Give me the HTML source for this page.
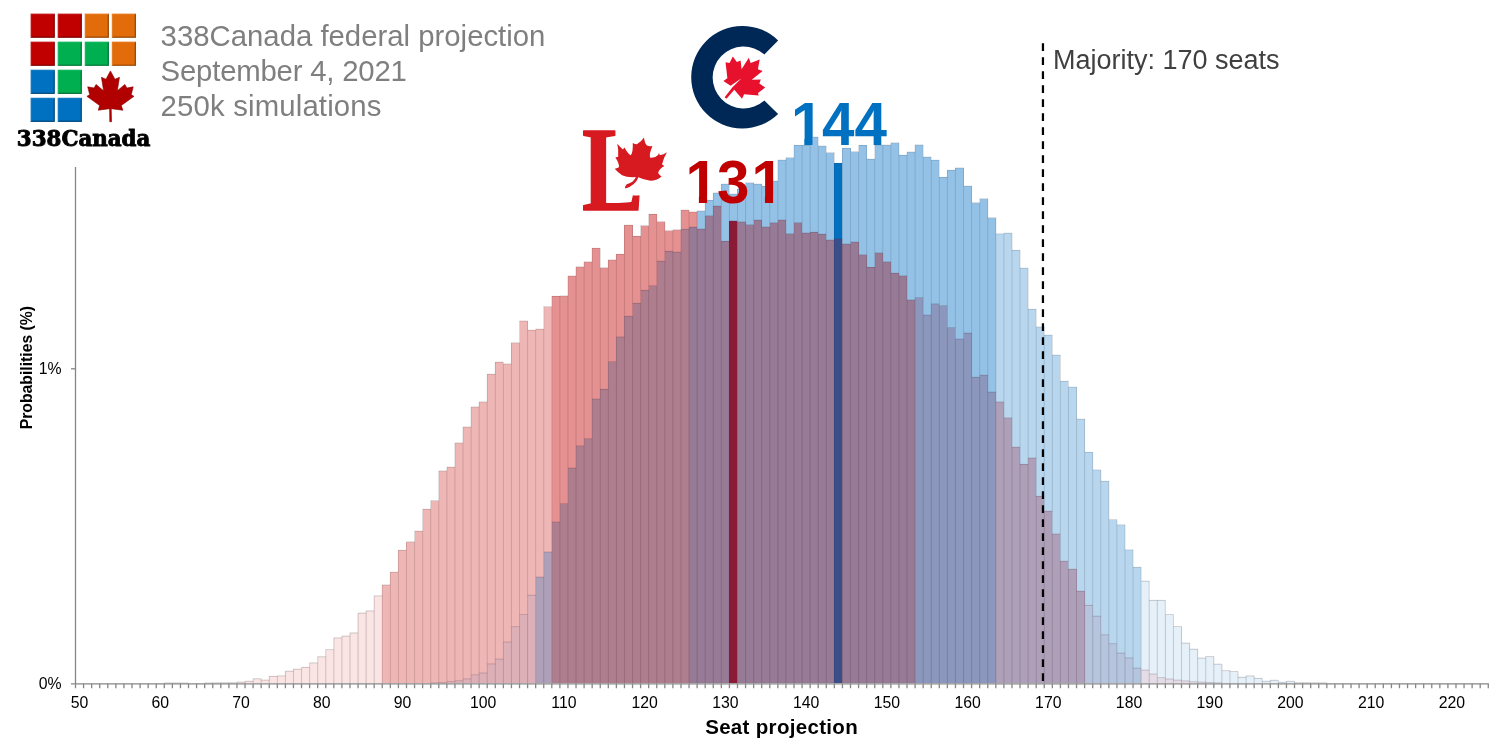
<!DOCTYPE html>
<html lang="en"><head><meta charset="utf-8"><title>338Canada federal projection</title>
<style>html,body{margin:0;padding:0;background:#fff}body{width:1512px;height:756px;overflow:hidden}svg{display:block}text{font-family:"Liberation Sans",Arial,sans-serif}</style></head><body>
<svg width="1512" height="756" viewBox="0 0 1512 756">
<rect width="1512" height="756" fill="#fff"/>
<g shape-rendering="crispEdges">
<rect x="164.30" y="682.90" width="8.073" height="0.40" fill="#FAE4E4"/><rect x="172.38" y="682.90" width="8.073" height="0.40" fill="#FAE4E4"/><rect x="180.45" y="683.00" width="8.073" height="0.30" fill="#FAE4E4"/><rect x="204.67" y="682.90" width="8.073" height="0.40" fill="#FAE4E4"/><rect x="212.74" y="682.80" width="8.073" height="0.50" fill="#FAE4E4"/><rect x="220.81" y="682.70" width="8.073" height="0.60" fill="#FAE4E4"/><rect x="228.89" y="682.70" width="8.073" height="0.60" fill="#FAE4E4"/><rect x="236.96" y="682.10" width="8.073" height="1.20" fill="#FAE4E4"/><rect x="245.03" y="681.30" width="8.073" height="2.00" fill="#FAE4E4"/><rect x="253.11" y="678.70" width="8.073" height="4.60" fill="#FAE4E4"/><rect x="261.18" y="680.10" width="8.073" height="3.20" fill="#FAE4E4"/><rect x="269.25" y="676.40" width="8.073" height="6.90" fill="#FAE4E4"/><rect x="277.33" y="675.80" width="8.073" height="7.50" fill="#FAE4E4"/><rect x="285.40" y="671.20" width="8.073" height="12.10" fill="#FAE4E4"/><rect x="293.47" y="669.20" width="8.073" height="14.10" fill="#FAE4E4"/><rect x="301.54" y="667.40" width="8.073" height="15.90" fill="#FAE4E4"/><rect x="309.62" y="662.90" width="8.073" height="20.40" fill="#FAE4E4"/><rect x="317.69" y="656.70" width="8.073" height="26.60" fill="#FAE4E4"/><rect x="325.76" y="649.60" width="8.073" height="33.70" fill="#FAE4E4"/><rect x="333.84" y="637.90" width="8.073" height="45.40" fill="#FAE4E4"/><rect x="341.91" y="636.10" width="8.073" height="47.20" fill="#FAE4E4"/><rect x="349.98" y="632.90" width="8.073" height="50.40" fill="#FAE4E4"/><rect x="358.06" y="613.10" width="8.073" height="70.20" fill="#FAE4E4"/><rect x="366.13" y="610.90" width="8.073" height="72.40" fill="#FAE4E4"/><rect x="374.20" y="595.80" width="8.073" height="87.50" fill="#FAE4E4"/><rect x="382.27" y="584.90" width="8.073" height="98.40" fill="#EFB6B6"/><rect x="390.35" y="572.20" width="8.073" height="111.10" fill="#EFB6B6"/><rect x="398.42" y="550.30" width="8.073" height="133.00" fill="#EFB6B6"/><rect x="406.49" y="541.80" width="8.073" height="141.50" fill="#EFB6B6"/><rect x="414.57" y="683.10" width="8.073" height="0.20" fill="#DDB0B8"/><rect x="414.57" y="531.20" width="8.073" height="151.90" fill="#EFB6B6"/><rect x="422.64" y="683.00" width="8.073" height="0.30" fill="#DDB0B8"/><rect x="422.64" y="509.30" width="8.073" height="173.70" fill="#EFB6B6"/><rect x="430.71" y="682.90" width="8.073" height="0.40" fill="#DDB0B8"/><rect x="430.71" y="500.50" width="8.073" height="182.40" fill="#EFB6B6"/><rect x="438.79" y="682.50" width="8.073" height="0.80" fill="#DDB0B8"/><rect x="438.79" y="470.90" width="8.073" height="211.60" fill="#EFB6B6"/><rect x="446.86" y="681.50" width="8.073" height="1.80" fill="#DDB0B8"/><rect x="446.86" y="467.20" width="8.073" height="214.30" fill="#EFB6B6"/><rect x="454.93" y="680.70" width="8.073" height="2.60" fill="#DDB0B8"/><rect x="454.93" y="442.90" width="8.073" height="237.80" fill="#EFB6B6"/><rect x="463.00" y="678.90" width="8.073" height="4.40" fill="#DDB0B8"/><rect x="463.00" y="427.00" width="8.073" height="251.90" fill="#EFB6B6"/><rect x="471.08" y="674.80" width="8.073" height="8.50" fill="#DDB0B8"/><rect x="471.08" y="406.90" width="8.073" height="267.90" fill="#EFB6B6"/><rect x="479.15" y="673.00" width="8.073" height="10.30" fill="#DDB0B8"/><rect x="479.15" y="401.90" width="8.073" height="271.10" fill="#EFB6B6"/><rect x="487.22" y="663.90" width="8.073" height="19.40" fill="#DDB0B8"/><rect x="487.22" y="374.30" width="8.073" height="289.60" fill="#EFB6B6"/><rect x="495.30" y="659.10" width="8.073" height="24.20" fill="#DDB0B8"/><rect x="495.30" y="362.10" width="8.073" height="297.00" fill="#EFB6B6"/><rect x="503.37" y="642.00" width="8.073" height="41.30" fill="#DDB0B8"/><rect x="503.37" y="363.90" width="8.073" height="278.10" fill="#EFB6B6"/><rect x="511.44" y="626.60" width="8.073" height="56.70" fill="#DDB0B8"/><rect x="511.44" y="342.70" width="8.073" height="283.90" fill="#EFB6B6"/><rect x="519.52" y="614.50" width="8.073" height="68.80" fill="#DDB0B8"/><rect x="519.52" y="321.00" width="8.073" height="293.50" fill="#EFB6B6"/><rect x="527.59" y="595.30" width="8.073" height="88.00" fill="#DDB0B8"/><rect x="527.59" y="330.30" width="8.073" height="265.00" fill="#EFB6B6"/><rect x="535.66" y="577.00" width="8.073" height="106.30" fill="#AFA0BA"/><rect x="535.66" y="329.20" width="8.073" height="247.80" fill="#EFB6B6"/><rect x="543.73" y="552.00" width="8.073" height="131.30" fill="#AFA0BA"/><rect x="543.73" y="306.50" width="8.073" height="245.50" fill="#EFB6B6"/><rect x="551.81" y="522.00" width="8.073" height="161.30" fill="#AE7E8E"/><rect x="551.81" y="296.40" width="8.073" height="225.60" fill="#E69191"/><rect x="559.88" y="503.50" width="8.073" height="179.80" fill="#AE7E8E"/><rect x="559.88" y="295.90" width="8.073" height="207.60" fill="#E69191"/><rect x="567.95" y="468.00" width="8.073" height="215.30" fill="#AE7E8E"/><rect x="567.95" y="276.00" width="8.073" height="192.00" fill="#E69191"/><rect x="576.03" y="445.80" width="8.073" height="237.50" fill="#AE7E8E"/><rect x="576.03" y="266.80" width="8.073" height="179.00" fill="#E69191"/><rect x="584.10" y="438.60" width="8.073" height="244.70" fill="#AE7E8E"/><rect x="584.10" y="261.80" width="8.073" height="176.80" fill="#E69191"/><rect x="592.17" y="399.00" width="8.073" height="284.30" fill="#AE7E8E"/><rect x="592.17" y="248.30" width="8.073" height="150.70" fill="#E69191"/><rect x="600.25" y="389.40" width="8.073" height="293.90" fill="#AE7E8E"/><rect x="600.25" y="267.60" width="8.073" height="121.80" fill="#E69191"/><rect x="608.32" y="361.50" width="8.073" height="321.80" fill="#AE7E8E"/><rect x="608.32" y="259.90" width="8.073" height="101.60" fill="#E69191"/><rect x="616.39" y="336.90" width="8.073" height="346.40" fill="#AE7E8E"/><rect x="616.39" y="254.40" width="8.073" height="82.50" fill="#E69191"/><rect x="624.46" y="316.30" width="8.073" height="367.00" fill="#AE7E8E"/><rect x="624.46" y="225.20" width="8.073" height="91.10" fill="#E69191"/><rect x="632.54" y="303.30" width="8.073" height="380.00" fill="#AE7E8E"/><rect x="632.54" y="236.40" width="8.073" height="66.90" fill="#E69191"/><rect x="640.61" y="290.30" width="8.073" height="393.00" fill="#AE7E8E"/><rect x="640.61" y="225.50" width="8.073" height="64.80" fill="#E69191"/><rect x="648.68" y="285.60" width="8.073" height="397.70" fill="#AE7E8E"/><rect x="648.68" y="214.40" width="8.073" height="71.20" fill="#E69191"/><rect x="656.76" y="261.20" width="8.073" height="422.10" fill="#AE7E8E"/><rect x="656.76" y="221.50" width="8.073" height="39.70" fill="#E69191"/><rect x="664.83" y="251.40" width="8.073" height="431.90" fill="#AE7E8E"/><rect x="664.83" y="230.50" width="8.073" height="20.90" fill="#E69191"/><rect x="672.90" y="252.20" width="8.073" height="431.10" fill="#AE7E8E"/><rect x="672.90" y="229.70" width="8.073" height="22.50" fill="#E69191"/><rect x="680.98" y="229.30" width="8.073" height="454.00" fill="#AE7E8E"/><rect x="680.98" y="210.20" width="8.073" height="19.10" fill="#E69191"/><rect x="689.05" y="227.10" width="8.073" height="456.20" fill="#967A96"/><rect x="689.05" y="212.00" width="8.073" height="15.10" fill="#E69191"/><rect x="697.12" y="229.00" width="8.073" height="454.30" fill="#967A96"/><rect x="697.12" y="210.90" width="8.073" height="18.10" fill="#94C2E6"/><rect x="705.19" y="215.70" width="8.073" height="467.60" fill="#967A96"/><rect x="705.19" y="200.40" width="8.073" height="15.30" fill="#94C2E6"/><rect x="713.27" y="206.10" width="8.073" height="477.20" fill="#967A96"/><rect x="713.27" y="192.90" width="8.073" height="13.20" fill="#94C2E6"/><rect x="721.34" y="241.40" width="8.073" height="441.90" fill="#967A96"/><rect x="721.34" y="184.10" width="8.073" height="57.30" fill="#94C2E6"/><rect x="729.41" y="220.80" width="8.073" height="462.50" fill="#8B1A35"/><rect x="729.41" y="194.10" width="8.073" height="26.70" fill="#94C2E6"/><rect x="737.49" y="221.80" width="8.073" height="461.50" fill="#967A96"/><rect x="737.49" y="188.80" width="8.073" height="33.00" fill="#94C2E6"/><rect x="745.56" y="224.60" width="8.073" height="458.70" fill="#967A96"/><rect x="745.56" y="182.70" width="8.073" height="41.90" fill="#94C2E6"/><rect x="753.63" y="220.10" width="8.073" height="463.20" fill="#967A96"/><rect x="753.63" y="184.10" width="8.073" height="36.00" fill="#94C2E6"/><rect x="761.71" y="226.90" width="8.073" height="456.40" fill="#967A96"/><rect x="761.71" y="186.30" width="8.073" height="40.60" fill="#94C2E6"/><rect x="769.78" y="222.70" width="8.073" height="460.60" fill="#967A96"/><rect x="769.78" y="181.10" width="8.073" height="41.60" fill="#94C2E6"/><rect x="777.85" y="220.00" width="8.073" height="463.30" fill="#967A96"/><rect x="777.85" y="160.10" width="8.073" height="59.90" fill="#94C2E6"/><rect x="785.92" y="233.60" width="8.073" height="449.70" fill="#967A96"/><rect x="785.92" y="157.60" width="8.073" height="76.00" fill="#94C2E6"/><rect x="794.00" y="222.50" width="8.073" height="460.80" fill="#967A96"/><rect x="794.00" y="145.40" width="8.073" height="77.10" fill="#94C2E6"/><rect x="802.07" y="233.00" width="8.073" height="450.30" fill="#967A96"/><rect x="802.07" y="145.40" width="8.073" height="87.60" fill="#94C2E6"/><rect x="810.14" y="232.30" width="8.073" height="451.00" fill="#967A96"/><rect x="810.14" y="137.10" width="8.073" height="95.20" fill="#94C2E6"/><rect x="818.22" y="234.20" width="8.073" height="449.10" fill="#967A96"/><rect x="818.22" y="146.00" width="8.073" height="88.20" fill="#94C2E6"/><rect x="826.29" y="240.00" width="8.073" height="443.30" fill="#967A96"/><rect x="826.29" y="152.50" width="8.073" height="87.50" fill="#94C2E6"/><rect x="834.36" y="238.70" width="8.073" height="444.60" fill="#3A4E8A"/><rect x="834.36" y="163.40" width="8.073" height="75.30" fill="#0070C0"/><rect x="842.44" y="244.00" width="8.073" height="439.30" fill="#967A96"/><rect x="842.44" y="148.30" width="8.073" height="95.70" fill="#94C2E6"/><rect x="850.51" y="242.00" width="8.073" height="441.30" fill="#967A96"/><rect x="850.51" y="151.50" width="8.073" height="90.50" fill="#94C2E6"/><rect x="858.58" y="254.70" width="8.073" height="428.60" fill="#967A96"/><rect x="858.58" y="145.40" width="8.073" height="109.30" fill="#94C2E6"/><rect x="866.65" y="267.40" width="8.073" height="415.90" fill="#967A96"/><rect x="866.65" y="159.20" width="8.073" height="108.20" fill="#94C2E6"/><rect x="874.73" y="252.80" width="8.073" height="430.50" fill="#967A96"/><rect x="874.73" y="145.10" width="8.073" height="107.70" fill="#94C2E6"/><rect x="882.80" y="261.80" width="8.073" height="421.50" fill="#967A96"/><rect x="882.80" y="145.10" width="8.073" height="116.70" fill="#94C2E6"/><rect x="890.87" y="273.20" width="8.073" height="410.10" fill="#967A96"/><rect x="890.87" y="142.80" width="8.073" height="130.40" fill="#94C2E6"/><rect x="898.95" y="275.80" width="8.073" height="407.50" fill="#967A96"/><rect x="898.95" y="155.20" width="8.073" height="120.60" fill="#94C2E6"/><rect x="907.02" y="299.90" width="8.073" height="383.40" fill="#967A96"/><rect x="907.02" y="152.00" width="8.073" height="147.90" fill="#94C2E6"/><rect x="915.09" y="297.50" width="8.073" height="385.80" fill="#8C97BD"/><rect x="915.09" y="144.90" width="8.073" height="152.60" fill="#94C2E6"/><rect x="923.17" y="315.00" width="8.073" height="368.30" fill="#8C97BD"/><rect x="923.17" y="157.00" width="8.073" height="158.00" fill="#94C2E6"/><rect x="931.24" y="303.80" width="8.073" height="379.50" fill="#8C97BD"/><rect x="931.24" y="160.20" width="8.073" height="143.60" fill="#94C2E6"/><rect x="939.31" y="305.60" width="8.073" height="377.70" fill="#8C97BD"/><rect x="939.31" y="177.40" width="8.073" height="128.20" fill="#94C2E6"/><rect x="947.38" y="327.50" width="8.073" height="355.80" fill="#8C97BD"/><rect x="947.38" y="170.30" width="8.073" height="157.20" fill="#94C2E6"/><rect x="955.46" y="339.00" width="8.073" height="344.30" fill="#8C97BD"/><rect x="955.46" y="167.90" width="8.073" height="171.10" fill="#94C2E6"/><rect x="963.53" y="333.10" width="8.073" height="350.20" fill="#8C97BD"/><rect x="963.53" y="186.10" width="8.073" height="147.00" fill="#94C2E6"/><rect x="971.60" y="377.30" width="8.073" height="306.00" fill="#8C97BD"/><rect x="971.60" y="202.60" width="8.073" height="174.70" fill="#94C2E6"/><rect x="979.68" y="375.20" width="8.073" height="308.10" fill="#8C97BD"/><rect x="979.68" y="198.60" width="8.073" height="176.60" fill="#94C2E6"/><rect x="987.75" y="392.10" width="8.073" height="291.20" fill="#8C97BD"/><rect x="987.75" y="217.60" width="8.073" height="174.50" fill="#94C2E6"/><rect x="995.82" y="401.90" width="8.073" height="281.40" fill="#AFA0BA"/><rect x="995.82" y="233.80" width="8.073" height="168.10" fill="#B8D7EE"/><rect x="1003.90" y="417.80" width="8.073" height="265.50" fill="#AFA0BA"/><rect x="1003.90" y="233.20" width="8.073" height="184.60" fill="#B8D7EE"/><rect x="1011.97" y="447.20" width="8.073" height="236.10" fill="#AFA0BA"/><rect x="1011.97" y="250.40" width="8.073" height="196.80" fill="#B8D7EE"/><rect x="1020.04" y="464.40" width="8.073" height="218.90" fill="#AFA0BA"/><rect x="1020.04" y="268.20" width="8.073" height="196.20" fill="#B8D7EE"/><rect x="1028.11" y="458.00" width="8.073" height="225.30" fill="#AFA0BA"/><rect x="1028.11" y="309.30" width="8.073" height="148.70" fill="#B8D7EE"/><rect x="1036.19" y="496.40" width="8.073" height="186.90" fill="#AFA0BA"/><rect x="1036.19" y="327.00" width="8.073" height="169.40" fill="#B8D7EE"/><rect x="1044.26" y="511.20" width="8.073" height="172.10" fill="#AFA0BA"/><rect x="1044.26" y="335.20" width="8.073" height="176.00" fill="#B8D7EE"/><rect x="1052.33" y="534.00" width="8.073" height="149.30" fill="#AFA0BA"/><rect x="1052.33" y="355.10" width="8.073" height="178.90" fill="#B8D7EE"/><rect x="1060.41" y="561.20" width="8.073" height="122.10" fill="#AFA0BA"/><rect x="1060.41" y="381.30" width="8.073" height="179.90" fill="#B8D7EE"/><rect x="1068.48" y="569.20" width="8.073" height="114.10" fill="#AFA0BA"/><rect x="1068.48" y="387.10" width="8.073" height="182.10" fill="#B8D7EE"/><rect x="1076.55" y="591.20" width="8.073" height="92.10" fill="#AFA0BA"/><rect x="1076.55" y="419.10" width="8.073" height="172.10" fill="#B8D7EE"/><rect x="1084.62" y="605.40" width="8.073" height="77.90" fill="#B5C5DE"/><rect x="1084.62" y="452.40" width="8.073" height="153.00" fill="#B8D7EE"/><rect x="1092.70" y="616.20" width="8.073" height="67.10" fill="#B5C5DE"/><rect x="1092.70" y="469.90" width="8.073" height="146.30" fill="#B8D7EE"/><rect x="1100.77" y="634.80" width="8.073" height="48.50" fill="#B5C5DE"/><rect x="1100.77" y="481.30" width="8.073" height="153.50" fill="#B8D7EE"/><rect x="1108.84" y="643.70" width="8.073" height="39.60" fill="#B5C5DE"/><rect x="1108.84" y="519.50" width="8.073" height="124.20" fill="#B8D7EE"/><rect x="1116.92" y="653.10" width="8.073" height="30.20" fill="#B5C5DE"/><rect x="1116.92" y="524.80" width="8.073" height="128.30" fill="#B8D7EE"/><rect x="1124.99" y="657.90" width="8.073" height="25.40" fill="#B5C5DE"/><rect x="1124.99" y="549.80" width="8.073" height="108.10" fill="#B8D7EE"/><rect x="1133.06" y="668.10" width="8.073" height="15.20" fill="#B5C5DE"/><rect x="1133.06" y="567.30" width="8.073" height="100.80" fill="#B8D7EE"/><rect x="1141.14" y="670.10" width="8.073" height="13.20" fill="#E4DDE6"/><rect x="1141.14" y="581.20" width="8.073" height="88.90" fill="#E6F0F9"/><rect x="1149.21" y="674.00" width="8.073" height="9.30" fill="#E4DDE6"/><rect x="1149.21" y="600.40" width="8.073" height="73.60" fill="#E6F0F9"/><rect x="1157.28" y="677.60" width="8.073" height="5.70" fill="#E4DDE6"/><rect x="1157.28" y="600.40" width="8.073" height="77.20" fill="#E6F0F9"/><rect x="1165.36" y="679.00" width="8.073" height="4.30" fill="#E4DDE6"/><rect x="1165.36" y="614.50" width="8.073" height="64.50" fill="#E6F0F9"/><rect x="1173.43" y="680.10" width="8.073" height="3.20" fill="#E4DDE6"/><rect x="1173.43" y="626.50" width="8.073" height="53.60" fill="#E6F0F9"/><rect x="1181.50" y="680.90" width="8.073" height="2.40" fill="#E4DDE6"/><rect x="1181.50" y="643.10" width="8.073" height="37.80" fill="#E6F0F9"/><rect x="1189.57" y="681.70" width="8.073" height="1.60" fill="#E4DDE6"/><rect x="1189.57" y="649.20" width="8.073" height="32.50" fill="#E6F0F9"/><rect x="1197.65" y="682.10" width="8.073" height="1.20" fill="#E4DDE6"/><rect x="1197.65" y="658.10" width="8.073" height="24.00" fill="#E6F0F9"/><rect x="1205.72" y="682.50" width="8.073" height="0.80" fill="#E4DDE6"/><rect x="1205.72" y="656.50" width="8.073" height="26.00" fill="#E6F0F9"/><rect x="1213.79" y="682.80" width="8.073" height="0.50" fill="#E4DDE6"/><rect x="1213.79" y="664.20" width="8.073" height="18.60" fill="#E6F0F9"/><rect x="1221.87" y="670.60" width="8.073" height="12.70" fill="#E6F0F9"/><rect x="1229.94" y="671.50" width="8.073" height="11.80" fill="#E6F0F9"/><rect x="1238.01" y="677.30" width="8.073" height="6.00" fill="#E6F0F9"/><rect x="1246.09" y="675.90" width="8.073" height="7.40" fill="#E6F0F9"/><rect x="1254.16" y="678.40" width="8.073" height="4.90" fill="#E6F0F9"/><rect x="1262.23" y="681.30" width="8.073" height="2.00" fill="#E6F0F9"/><rect x="1270.30" y="680.30" width="8.073" height="3.00" fill="#E6F0F9"/><rect x="1278.38" y="682.30" width="8.073" height="1.00" fill="#E6F0F9"/><rect x="1286.45" y="681.30" width="8.073" height="2.00" fill="#E6F0F9"/><rect x="1294.52" y="682.70" width="8.073" height="0.60" fill="#E6F0F9"/><rect x="1302.60" y="682.70" width="8.073" height="0.60" fill="#E6F0F9"/><rect x="1310.67" y="682.80" width="8.073" height="0.50" fill="#E6F0F9"/><rect x="1318.74" y="682.80" width="8.073" height="0.50" fill="#E6F0F9"/>
</g>
<g fill="none" stroke-width="1">
<path d="M164.30 683.30V682.90" stroke="rgba(95,85,85,0.27)"/><path d="M172.38 683.30V682.90" stroke="rgba(95,85,85,0.27)"/><path d="M180.45 683.30V682.90" stroke="rgba(95,85,85,0.27)"/><path d="M188.52 683.30V683.00" stroke="rgba(95,85,85,0.27)"/><path d="M204.67 683.30V682.90" stroke="rgba(95,85,85,0.27)"/><path d="M212.74 683.30V682.80" stroke="rgba(95,85,85,0.27)"/><path d="M220.81 683.30V682.70" stroke="rgba(95,85,85,0.27)"/><path d="M228.89 683.30V682.70" stroke="rgba(95,85,85,0.27)"/><path d="M236.96 683.30V682.10" stroke="rgba(95,85,85,0.27)"/><path d="M245.03 683.30V681.30" stroke="rgba(95,85,85,0.27)"/><path d="M253.11 683.30V678.70" stroke="rgba(95,85,85,0.27)"/><path d="M261.18 683.30V678.70" stroke="rgba(95,85,85,0.27)"/><path d="M269.25 683.30V676.40" stroke="rgba(95,85,85,0.27)"/><path d="M277.33 683.30V675.80" stroke="rgba(95,85,85,0.27)"/><path d="M285.40 683.30V671.20" stroke="rgba(95,85,85,0.27)"/><path d="M293.47 683.30V669.20" stroke="rgba(95,85,85,0.27)"/><path d="M301.54 683.30V667.40" stroke="rgba(95,85,85,0.27)"/><path d="M309.62 683.30V662.90" stroke="rgba(95,85,85,0.27)"/><path d="M317.69 683.30V656.70" stroke="rgba(95,85,85,0.27)"/><path d="M325.76 683.30V649.60" stroke="rgba(95,85,85,0.27)"/><path d="M333.84 683.30V637.90" stroke="rgba(95,85,85,0.27)"/><path d="M341.91 683.30V636.10" stroke="rgba(95,85,85,0.27)"/><path d="M349.98 683.30V632.90" stroke="rgba(95,85,85,0.27)"/><path d="M358.06 683.30V613.10" stroke="rgba(95,85,85,0.27)"/><path d="M366.13 683.30V610.90" stroke="rgba(95,85,85,0.27)"/><path d="M374.20 683.30V595.80" stroke="rgba(95,85,85,0.27)"/><path d="M382.27 683.30V584.90" stroke="rgba(100,70,70,0.22)"/><path d="M390.35 683.30V572.20" stroke="rgba(100,70,70,0.22)"/><path d="M398.42 683.30V550.30" stroke="rgba(100,70,70,0.22)"/><path d="M406.49 683.30V541.80" stroke="rgba(100,70,70,0.22)"/><path d="M414.57 683.30V531.20" stroke="rgba(100,70,70,0.22)"/><path d="M422.64 683.30V509.30" stroke="rgba(100,70,70,0.22)"/><path d="M430.71 683.30V682.90" stroke="rgba(75,45,65,0.22)"/><path d="M430.71 682.90V500.50" stroke="rgba(100,70,70,0.22)"/><path d="M438.79 683.30V682.50" stroke="rgba(75,45,65,0.22)"/><path d="M438.79 682.50V470.90" stroke="rgba(100,70,70,0.22)"/><path d="M446.86 683.30V681.50" stroke="rgba(75,45,65,0.22)"/><path d="M446.86 681.50V467.20" stroke="rgba(100,70,70,0.22)"/><path d="M454.93 683.30V680.70" stroke="rgba(75,45,65,0.22)"/><path d="M454.93 680.70V442.90" stroke="rgba(100,70,70,0.22)"/><path d="M463.00 683.30V678.90" stroke="rgba(75,45,65,0.22)"/><path d="M463.00 678.90V427.00" stroke="rgba(100,70,70,0.22)"/><path d="M471.08 683.30V674.80" stroke="rgba(75,45,65,0.22)"/><path d="M471.08 674.80V406.90" stroke="rgba(100,70,70,0.22)"/><path d="M479.15 683.30V673.00" stroke="rgba(75,45,65,0.22)"/><path d="M479.15 673.00V401.90" stroke="rgba(100,70,70,0.22)"/><path d="M487.22 683.30V663.90" stroke="rgba(75,45,65,0.22)"/><path d="M487.22 663.90V374.30" stroke="rgba(100,70,70,0.22)"/><path d="M495.30 683.30V659.10" stroke="rgba(75,45,65,0.22)"/><path d="M495.30 659.10V362.10" stroke="rgba(100,70,70,0.22)"/><path d="M503.37 683.30V642.00" stroke="rgba(75,45,65,0.22)"/><path d="M503.37 642.00V362.10" stroke="rgba(100,70,70,0.22)"/><path d="M511.44 683.30V626.60" stroke="rgba(75,45,65,0.22)"/><path d="M511.44 626.60V342.70" stroke="rgba(100,70,70,0.22)"/><path d="M519.52 683.30V614.50" stroke="rgba(75,45,65,0.22)"/><path d="M519.52 614.50V321.00" stroke="rgba(100,70,70,0.22)"/><path d="M527.59 683.30V595.30" stroke="rgba(75,45,65,0.22)"/><path d="M527.59 595.30V321.00" stroke="rgba(100,70,70,0.22)"/><path d="M535.66 683.30V577.00" stroke="rgba(75,45,65,0.22)"/><path d="M535.66 577.00V329.20" stroke="rgba(100,70,70,0.22)"/><path d="M543.73 683.30V552.00" stroke="rgba(75,45,65,0.22)"/><path d="M543.73 552.00V306.50" stroke="rgba(100,70,70,0.22)"/><path d="M551.81 683.30V522.00" stroke="rgba(75,45,65,0.22)"/><path d="M551.81 522.00V296.40" stroke="rgba(100,55,60,0.22)"/><path d="M559.88 683.30V503.50" stroke="rgba(75,45,65,0.22)"/><path d="M559.88 503.50V295.90" stroke="rgba(100,55,60,0.22)"/><path d="M567.95 683.30V468.00" stroke="rgba(75,45,65,0.22)"/><path d="M567.95 468.00V276.00" stroke="rgba(100,55,60,0.22)"/><path d="M576.03 683.30V445.80" stroke="rgba(75,45,65,0.22)"/><path d="M576.03 445.80V266.80" stroke="rgba(100,55,60,0.22)"/><path d="M584.10 683.30V438.60" stroke="rgba(75,45,65,0.22)"/><path d="M584.10 438.60V261.80" stroke="rgba(100,55,60,0.22)"/><path d="M592.17 683.30V399.00" stroke="rgba(75,45,65,0.22)"/><path d="M592.17 399.00V248.30" stroke="rgba(100,55,60,0.22)"/><path d="M600.25 683.30V389.40" stroke="rgba(75,45,65,0.22)"/><path d="M600.25 389.40V248.30" stroke="rgba(100,55,60,0.22)"/><path d="M608.32 683.30V361.50" stroke="rgba(75,45,65,0.22)"/><path d="M608.32 361.50V259.90" stroke="rgba(100,55,60,0.22)"/><path d="M616.39 683.30V336.90" stroke="rgba(75,45,65,0.22)"/><path d="M616.39 336.90V254.40" stroke="rgba(100,55,60,0.22)"/><path d="M624.46 683.30V316.30" stroke="rgba(75,45,65,0.22)"/><path d="M624.46 316.30V225.20" stroke="rgba(100,55,60,0.22)"/><path d="M632.54 683.30V303.30" stroke="rgba(75,45,65,0.22)"/><path d="M632.54 303.30V225.20" stroke="rgba(100,55,60,0.22)"/><path d="M640.61 683.30V290.30" stroke="rgba(75,45,65,0.22)"/><path d="M640.61 290.30V225.50" stroke="rgba(100,55,60,0.22)"/><path d="M648.68 683.30V285.60" stroke="rgba(75,45,65,0.22)"/><path d="M648.68 285.60V214.40" stroke="rgba(100,55,60,0.22)"/><path d="M656.76 683.30V261.20" stroke="rgba(75,45,65,0.22)"/><path d="M656.76 261.20V214.40" stroke="rgba(100,55,60,0.22)"/><path d="M664.83 683.30V251.40" stroke="rgba(75,45,65,0.22)"/><path d="M664.83 251.40V221.50" stroke="rgba(100,55,60,0.22)"/><path d="M672.90 683.30V251.40" stroke="rgba(75,45,65,0.22)"/><path d="M672.90 251.40V229.70" stroke="rgba(100,55,60,0.22)"/><path d="M680.98 683.30V229.30" stroke="rgba(75,45,65,0.22)"/><path d="M680.98 229.30V210.20" stroke="rgba(100,55,60,0.22)"/><path d="M689.05 683.30V227.10" stroke="rgba(75,45,65,0.22)"/><path d="M689.05 227.10V210.20" stroke="rgba(100,55,60,0.22)"/><path d="M697.12 683.30V212.00" stroke="rgba(75,45,65,0.22)"/><path d="M697.12 212.00V210.90" stroke="rgba(55,75,105,0.20)"/><path d="M705.19 683.30V215.70" stroke="rgba(75,45,65,0.22)"/><path d="M705.19 215.70V200.40" stroke="rgba(55,75,105,0.20)"/><path d="M713.27 683.30V206.10" stroke="rgba(75,45,65,0.22)"/><path d="M713.27 206.10V192.90" stroke="rgba(55,75,105,0.20)"/><path d="M721.34 683.30V206.10" stroke="rgba(75,45,65,0.22)"/><path d="M721.34 206.10V184.10" stroke="rgba(55,75,105,0.20)"/><path d="M729.41 683.30V220.80" stroke="rgba(75,45,65,0.22)"/><path d="M729.41 220.80V184.10" stroke="rgba(55,75,105,0.20)"/><path d="M737.49 683.30V220.80" stroke="rgba(75,45,65,0.22)"/><path d="M737.49 220.80V188.80" stroke="rgba(55,75,105,0.20)"/><path d="M745.56 683.30V221.80" stroke="rgba(75,45,65,0.22)"/><path d="M745.56 221.80V182.70" stroke="rgba(55,75,105,0.20)"/><path d="M753.63 683.30V220.10" stroke="rgba(75,45,65,0.22)"/><path d="M753.63 220.10V182.70" stroke="rgba(55,75,105,0.20)"/><path d="M761.71 683.30V220.10" stroke="rgba(75,45,65,0.22)"/><path d="M761.71 220.10V184.10" stroke="rgba(55,75,105,0.20)"/><path d="M769.78 683.30V222.70" stroke="rgba(75,45,65,0.22)"/><path d="M769.78 222.70V181.10" stroke="rgba(55,75,105,0.20)"/><path d="M777.85 683.30V220.00" stroke="rgba(75,45,65,0.22)"/><path d="M777.85 220.00V160.10" stroke="rgba(55,75,105,0.20)"/><path d="M785.92 683.30V220.00" stroke="rgba(75,45,65,0.22)"/><path d="M785.92 220.00V157.60" stroke="rgba(55,75,105,0.20)"/><path d="M794.00 683.30V222.50" stroke="rgba(75,45,65,0.22)"/><path d="M794.00 222.50V145.40" stroke="rgba(55,75,105,0.20)"/><path d="M802.07 683.30V222.50" stroke="rgba(75,45,65,0.22)"/><path d="M802.07 222.50V145.40" stroke="rgba(55,75,105,0.20)"/><path d="M810.14 683.30V232.30" stroke="rgba(75,45,65,0.22)"/><path d="M810.14 232.30V137.10" stroke="rgba(55,75,105,0.20)"/><path d="M818.22 683.30V232.30" stroke="rgba(75,45,65,0.22)"/><path d="M818.22 232.30V137.10" stroke="rgba(55,75,105,0.20)"/><path d="M826.29 683.30V234.20" stroke="rgba(75,45,65,0.22)"/><path d="M826.29 234.20V146.00" stroke="rgba(55,75,105,0.20)"/><path d="M834.36 683.30V238.70" stroke="rgba(75,45,65,0.22)"/><path d="M834.36 238.70V152.50" stroke="rgba(55,75,105,0.20)"/><path d="M842.44 683.30V238.70" stroke="rgba(75,45,65,0.22)"/><path d="M842.44 238.70V148.30" stroke="rgba(55,75,105,0.20)"/><path d="M850.51 683.30V242.00" stroke="rgba(75,45,65,0.22)"/><path d="M850.51 242.00V148.30" stroke="rgba(55,75,105,0.20)"/><path d="M858.58 683.30V242.00" stroke="rgba(75,45,65,0.22)"/><path d="M858.58 242.00V145.40" stroke="rgba(55,75,105,0.20)"/><path d="M866.65 683.30V254.70" stroke="rgba(75,45,65,0.22)"/><path d="M866.65 254.70V145.40" stroke="rgba(55,75,105,0.20)"/><path d="M874.73 683.30V252.80" stroke="rgba(75,45,65,0.22)"/><path d="M874.73 252.80V145.10" stroke="rgba(55,75,105,0.20)"/><path d="M882.80 683.30V252.80" stroke="rgba(75,45,65,0.22)"/><path d="M882.80 252.80V145.10" stroke="rgba(55,75,105,0.20)"/><path d="M890.87 683.30V261.80" stroke="rgba(75,45,65,0.22)"/><path d="M890.87 261.80V142.80" stroke="rgba(55,75,105,0.20)"/><path d="M898.95 683.30V273.20" stroke="rgba(75,45,65,0.22)"/><path d="M898.95 273.20V142.80" stroke="rgba(55,75,105,0.20)"/><path d="M907.02 683.30V275.80" stroke="rgba(75,45,65,0.22)"/><path d="M907.02 275.80V152.00" stroke="rgba(55,75,105,0.20)"/><path d="M915.09 683.30V297.50" stroke="rgba(75,45,65,0.22)"/><path d="M915.09 297.50V144.90" stroke="rgba(55,75,105,0.20)"/><path d="M923.17 683.30V297.50" stroke="rgba(75,45,65,0.22)"/><path d="M923.17 297.50V144.90" stroke="rgba(55,75,105,0.20)"/><path d="M931.24 683.30V303.80" stroke="rgba(75,45,65,0.22)"/><path d="M931.24 303.80V157.00" stroke="rgba(55,75,105,0.20)"/><path d="M939.31 683.30V303.80" stroke="rgba(75,45,65,0.22)"/><path d="M939.31 303.80V160.20" stroke="rgba(55,75,105,0.20)"/><path d="M947.38 683.30V305.60" stroke="rgba(75,45,65,0.22)"/><path d="M947.38 305.60V170.30" stroke="rgba(55,75,105,0.20)"/><path d="M955.46 683.30V327.50" stroke="rgba(75,45,65,0.22)"/><path d="M955.46 327.50V167.90" stroke="rgba(55,75,105,0.20)"/><path d="M963.53 683.30V333.10" stroke="rgba(75,45,65,0.22)"/><path d="M963.53 333.10V167.90" stroke="rgba(55,75,105,0.20)"/><path d="M971.60 683.30V333.10" stroke="rgba(75,45,65,0.22)"/><path d="M971.60 333.10V186.10" stroke="rgba(55,75,105,0.20)"/><path d="M979.68 683.30V375.20" stroke="rgba(75,45,65,0.22)"/><path d="M979.68 375.20V198.60" stroke="rgba(55,75,105,0.20)"/><path d="M987.75 683.30V375.20" stroke="rgba(75,45,65,0.22)"/><path d="M987.75 375.20V198.60" stroke="rgba(55,75,105,0.20)"/><path d="M995.82 683.30V392.10" stroke="rgba(75,45,65,0.22)"/><path d="M995.82 392.10V217.60" stroke="rgba(55,75,105,0.20)"/><path d="M1003.90 683.30V401.90" stroke="rgba(75,45,65,0.22)"/><path d="M1003.90 401.90V233.20" stroke="rgba(70,85,105,0.22)"/><path d="M1011.97 683.30V417.80" stroke="rgba(75,45,65,0.22)"/><path d="M1011.97 417.80V233.20" stroke="rgba(70,85,105,0.22)"/><path d="M1020.04 683.30V447.20" stroke="rgba(75,45,65,0.22)"/><path d="M1020.04 447.20V250.40" stroke="rgba(70,85,105,0.22)"/><path d="M1028.11 683.30V458.00" stroke="rgba(75,45,65,0.22)"/><path d="M1028.11 458.00V268.20" stroke="rgba(70,85,105,0.22)"/><path d="M1036.19 683.30V458.00" stroke="rgba(75,45,65,0.22)"/><path d="M1036.19 458.00V309.30" stroke="rgba(70,85,105,0.22)"/><path d="M1044.26 683.30V496.40" stroke="rgba(75,45,65,0.22)"/><path d="M1044.26 496.40V327.00" stroke="rgba(70,85,105,0.22)"/><path d="M1052.33 683.30V511.20" stroke="rgba(75,45,65,0.22)"/><path d="M1052.33 511.20V335.20" stroke="rgba(70,85,105,0.22)"/><path d="M1060.41 683.30V534.00" stroke="rgba(75,45,65,0.22)"/><path d="M1060.41 534.00V355.10" stroke="rgba(70,85,105,0.22)"/><path d="M1068.48 683.30V561.20" stroke="rgba(75,45,65,0.22)"/><path d="M1068.48 561.20V381.30" stroke="rgba(70,85,105,0.22)"/><path d="M1076.55 683.30V569.20" stroke="rgba(75,45,65,0.22)"/><path d="M1076.55 569.20V387.10" stroke="rgba(70,85,105,0.22)"/><path d="M1084.62 683.30V591.20" stroke="rgba(75,45,65,0.22)"/><path d="M1084.62 591.20V419.10" stroke="rgba(70,85,105,0.22)"/><path d="M1092.70 683.30V605.40" stroke="rgba(75,45,65,0.22)"/><path d="M1092.70 605.40V452.40" stroke="rgba(70,85,105,0.22)"/><path d="M1100.77 683.30V616.20" stroke="rgba(75,45,65,0.22)"/><path d="M1100.77 616.20V469.90" stroke="rgba(70,85,105,0.22)"/><path d="M1108.84 683.30V634.80" stroke="rgba(75,45,65,0.22)"/><path d="M1108.84 634.80V481.30" stroke="rgba(70,85,105,0.22)"/><path d="M1116.92 683.30V643.70" stroke="rgba(75,45,65,0.22)"/><path d="M1116.92 643.70V519.50" stroke="rgba(70,85,105,0.22)"/><path d="M1124.99 683.30V653.10" stroke="rgba(75,45,65,0.22)"/><path d="M1124.99 653.10V524.80" stroke="rgba(70,85,105,0.22)"/><path d="M1133.06 683.30V657.90" stroke="rgba(75,45,65,0.22)"/><path d="M1133.06 657.90V549.80" stroke="rgba(70,85,105,0.22)"/><path d="M1141.14 683.30V668.10" stroke="rgba(75,45,65,0.22)"/><path d="M1141.14 668.10V567.30" stroke="rgba(70,85,105,0.22)"/><path d="M1149.21 683.30V670.10" stroke="rgba(75,45,65,0.22)"/><path d="M1149.21 670.10V581.20" stroke="rgba(85,90,100,0.27)"/><path d="M1157.28 683.30V674.00" stroke="rgba(75,45,65,0.22)"/><path d="M1157.28 674.00V600.40" stroke="rgba(85,90,100,0.27)"/><path d="M1165.36 683.30V677.60" stroke="rgba(75,45,65,0.22)"/><path d="M1165.36 677.60V600.40" stroke="rgba(85,90,100,0.27)"/><path d="M1173.43 683.30V679.00" stroke="rgba(75,45,65,0.22)"/><path d="M1173.43 679.00V614.50" stroke="rgba(85,90,100,0.27)"/><path d="M1181.50 683.30V680.10" stroke="rgba(75,45,65,0.22)"/><path d="M1181.50 680.10V626.50" stroke="rgba(85,90,100,0.27)"/><path d="M1189.57 683.30V680.90" stroke="rgba(75,45,65,0.22)"/><path d="M1189.57 680.90V643.10" stroke="rgba(85,90,100,0.27)"/><path d="M1197.65 683.30V681.70" stroke="rgba(75,45,65,0.22)"/><path d="M1197.65 681.70V649.20" stroke="rgba(85,90,100,0.27)"/><path d="M1205.72 683.30V682.10" stroke="rgba(75,45,65,0.22)"/><path d="M1205.72 682.10V656.50" stroke="rgba(85,90,100,0.27)"/><path d="M1213.79 683.30V682.50" stroke="rgba(75,45,65,0.22)"/><path d="M1213.79 682.50V656.50" stroke="rgba(85,90,100,0.27)"/><path d="M1221.87 683.30V682.80" stroke="rgba(75,45,65,0.22)"/><path d="M1221.87 682.80V664.20" stroke="rgba(85,90,100,0.27)"/><path d="M1229.94 683.30V670.60" stroke="rgba(85,90,100,0.27)"/><path d="M1238.01 683.30V671.50" stroke="rgba(85,90,100,0.27)"/><path d="M1246.09 683.30V675.90" stroke="rgba(85,90,100,0.27)"/><path d="M1254.16 683.30V675.90" stroke="rgba(85,90,100,0.27)"/><path d="M1262.23 683.30V678.40" stroke="rgba(85,90,100,0.27)"/><path d="M1270.30 683.30V680.30" stroke="rgba(85,90,100,0.27)"/><path d="M1278.38 683.30V680.30" stroke="rgba(85,90,100,0.27)"/><path d="M1286.45 683.30V681.30" stroke="rgba(85,90,100,0.27)"/><path d="M1294.52 683.30V681.30" stroke="rgba(85,90,100,0.27)"/><path d="M1302.60 683.30V682.70" stroke="rgba(85,90,100,0.27)"/><path d="M1310.67 683.30V682.70" stroke="rgba(85,90,100,0.27)"/><path d="M1318.74 683.30V682.80" stroke="rgba(85,90,100,0.27)"/><path d="M1326.82 683.30V682.80" stroke="rgba(85,90,100,0.27)"/><path d="M164.30 682.90H172.38" stroke="rgba(95,85,85,0.27)"/><path d="M172.38 682.90H180.45" stroke="rgba(95,85,85,0.27)"/><path d="M180.45 683.00H188.52" stroke="rgba(95,85,85,0.27)"/><path d="M204.67 682.90H212.74" stroke="rgba(95,85,85,0.27)"/><path d="M212.74 682.80H220.81" stroke="rgba(95,85,85,0.27)"/><path d="M220.81 682.70H228.89" stroke="rgba(95,85,85,0.27)"/><path d="M228.89 682.70H236.96" stroke="rgba(95,85,85,0.27)"/><path d="M236.96 682.10H245.03" stroke="rgba(95,85,85,0.27)"/><path d="M245.03 681.30H253.11" stroke="rgba(95,85,85,0.27)"/><path d="M253.11 678.70H261.18" stroke="rgba(95,85,85,0.27)"/><path d="M261.18 680.10H269.25" stroke="rgba(95,85,85,0.27)"/><path d="M269.25 676.40H277.32" stroke="rgba(95,85,85,0.27)"/><path d="M277.33 675.80H285.40" stroke="rgba(95,85,85,0.27)"/><path d="M285.40 671.20H293.47" stroke="rgba(95,85,85,0.27)"/><path d="M293.47 669.20H301.54" stroke="rgba(95,85,85,0.27)"/><path d="M301.54 667.40H309.62" stroke="rgba(95,85,85,0.27)"/><path d="M309.62 662.90H317.69" stroke="rgba(95,85,85,0.27)"/><path d="M317.69 656.70H325.76" stroke="rgba(95,85,85,0.27)"/><path d="M325.76 649.60H333.84" stroke="rgba(95,85,85,0.27)"/><path d="M333.84 637.90H341.91" stroke="rgba(95,85,85,0.27)"/><path d="M341.91 636.10H349.98" stroke="rgba(95,85,85,0.27)"/><path d="M349.98 632.90H358.06" stroke="rgba(95,85,85,0.27)"/><path d="M358.06 613.10H366.13" stroke="rgba(95,85,85,0.27)"/><path d="M366.13 610.90H374.20" stroke="rgba(95,85,85,0.27)"/><path d="M374.20 595.80H382.27" stroke="rgba(95,85,85,0.27)"/><path d="M382.27 584.90H390.35" stroke="rgba(100,70,70,0.22)"/><path d="M390.35 572.20H398.42" stroke="rgba(100,70,70,0.22)"/><path d="M398.42 550.30H406.49" stroke="rgba(100,70,70,0.22)"/><path d="M406.49 541.80H414.57" stroke="rgba(100,70,70,0.22)"/><path d="M414.57 531.20H422.64" stroke="rgba(100,70,70,0.22)"/><path d="M422.64 509.30H430.71" stroke="rgba(100,70,70,0.22)"/><path d="M430.71 500.50H438.78" stroke="rgba(100,70,70,0.22)"/><path d="M430.71 682.90H438.78" stroke="rgba(75,45,65,0.22)"/><path d="M438.79 470.90H446.86" stroke="rgba(100,70,70,0.22)"/><path d="M438.79 682.50H446.86" stroke="rgba(75,45,65,0.22)"/><path d="M446.86 467.20H454.93" stroke="rgba(100,70,70,0.22)"/><path d="M446.86 681.50H454.93" stroke="rgba(75,45,65,0.22)"/><path d="M454.93 442.90H463.00" stroke="rgba(100,70,70,0.22)"/><path d="M454.93 680.70H463.00" stroke="rgba(75,45,65,0.22)"/><path d="M463.00 427.00H471.08" stroke="rgba(100,70,70,0.22)"/><path d="M463.00 678.90H471.08" stroke="rgba(75,45,65,0.22)"/><path d="M471.08 406.90H479.15" stroke="rgba(100,70,70,0.22)"/><path d="M471.08 674.80H479.15" stroke="rgba(75,45,65,0.22)"/><path d="M479.15 401.90H487.22" stroke="rgba(100,70,70,0.22)"/><path d="M479.15 673.00H487.22" stroke="rgba(75,45,65,0.22)"/><path d="M487.22 374.30H495.30" stroke="rgba(100,70,70,0.22)"/><path d="M487.22 663.90H495.30" stroke="rgba(75,45,65,0.22)"/><path d="M495.30 362.10H503.37" stroke="rgba(100,70,70,0.22)"/><path d="M495.30 659.10H503.37" stroke="rgba(75,45,65,0.22)"/><path d="M503.37 363.90H511.44" stroke="rgba(100,70,70,0.22)"/><path d="M503.37 642.00H511.44" stroke="rgba(75,45,65,0.22)"/><path d="M511.44 342.70H519.51" stroke="rgba(100,70,70,0.22)"/><path d="M511.44 626.60H519.51" stroke="rgba(75,45,65,0.22)"/><path d="M519.52 321.00H527.59" stroke="rgba(100,70,70,0.22)"/><path d="M519.52 614.50H527.59" stroke="rgba(75,45,65,0.22)"/><path d="M527.59 330.30H535.66" stroke="rgba(100,70,70,0.22)"/><path d="M527.59 595.30H535.66" stroke="rgba(75,45,65,0.22)"/><path d="M535.66 329.20H543.73" stroke="rgba(100,70,70,0.22)"/><path d="M535.66 577.00H543.73" stroke="rgba(75,45,65,0.22)"/><path d="M543.73 306.50H551.81" stroke="rgba(100,70,70,0.22)"/><path d="M543.73 552.00H551.81" stroke="rgba(75,45,65,0.22)"/><path d="M551.81 296.40H559.88" stroke="rgba(100,55,60,0.22)"/><path d="M551.81 522.00H559.88" stroke="rgba(75,45,65,0.22)"/><path d="M559.88 295.90H567.95" stroke="rgba(100,55,60,0.22)"/><path d="M559.88 503.50H567.95" stroke="rgba(75,45,65,0.22)"/><path d="M567.95 276.00H576.03" stroke="rgba(100,55,60,0.22)"/><path d="M567.95 468.00H576.03" stroke="rgba(75,45,65,0.22)"/><path d="M576.03 266.80H584.10" stroke="rgba(100,55,60,0.22)"/><path d="M576.03 445.80H584.10" stroke="rgba(75,45,65,0.22)"/><path d="M584.10 261.80H592.17" stroke="rgba(100,55,60,0.22)"/><path d="M584.10 438.60H592.17" stroke="rgba(75,45,65,0.22)"/><path d="M592.17 248.30H600.25" stroke="rgba(100,55,60,0.22)"/><path d="M592.17 399.00H600.25" stroke="rgba(75,45,65,0.22)"/><path d="M600.25 267.60H608.32" stroke="rgba(100,55,60,0.22)"/><path d="M600.25 389.40H608.32" stroke="rgba(75,45,65,0.22)"/><path d="M608.32 259.90H616.39" stroke="rgba(100,55,60,0.22)"/><path d="M608.32 361.50H616.39" stroke="rgba(75,45,65,0.22)"/><path d="M616.39 254.40H624.46" stroke="rgba(100,55,60,0.22)"/><path d="M616.39 336.90H624.46" stroke="rgba(75,45,65,0.22)"/><path d="M624.46 225.20H632.54" stroke="rgba(100,55,60,0.22)"/><path d="M624.46 316.30H632.54" stroke="rgba(75,45,65,0.22)"/><path d="M632.54 236.40H640.61" stroke="rgba(100,55,60,0.22)"/><path d="M632.54 303.30H640.61" stroke="rgba(75,45,65,0.22)"/><path d="M640.61 225.50H648.68" stroke="rgba(100,55,60,0.22)"/><path d="M640.61 290.30H648.68" stroke="rgba(75,45,65,0.22)"/><path d="M648.68 214.40H656.76" stroke="rgba(100,55,60,0.22)"/><path d="M648.68 285.60H656.76" stroke="rgba(75,45,65,0.22)"/><path d="M656.76 221.50H664.83" stroke="rgba(100,55,60,0.22)"/><path d="M656.76 261.20H664.83" stroke="rgba(75,45,65,0.22)"/><path d="M664.83 230.50H672.90" stroke="rgba(100,55,60,0.22)"/><path d="M664.83 251.40H672.90" stroke="rgba(75,45,65,0.22)"/><path d="M672.90 229.70H680.98" stroke="rgba(100,55,60,0.22)"/><path d="M672.90 252.20H680.98" stroke="rgba(75,45,65,0.22)"/><path d="M680.98 210.20H689.05" stroke="rgba(100,55,60,0.22)"/><path d="M680.98 229.30H689.05" stroke="rgba(75,45,65,0.22)"/><path d="M689.05 212.00H697.12" stroke="rgba(100,55,60,0.22)"/><path d="M689.05 227.10H697.12" stroke="rgba(75,45,65,0.22)"/><path d="M697.12 210.90H705.19" stroke="rgba(55,75,105,0.20)"/><path d="M697.12 229.00H705.19" stroke="rgba(75,45,65,0.22)"/><path d="M705.19 200.40H713.27" stroke="rgba(55,75,105,0.20)"/><path d="M705.19 215.70H713.27" stroke="rgba(75,45,65,0.22)"/><path d="M713.27 192.90H721.34" stroke="rgba(55,75,105,0.20)"/><path d="M713.27 206.10H721.34" stroke="rgba(75,45,65,0.22)"/><path d="M721.34 184.10H729.41" stroke="rgba(55,75,105,0.20)"/><path d="M721.34 241.40H729.41" stroke="rgba(75,45,65,0.22)"/><path d="M729.41 194.10H737.49" stroke="rgba(55,75,105,0.20)"/><path d="M729.41 220.80H737.49" stroke="rgba(75,45,65,0.22)"/><path d="M737.49 188.80H745.56" stroke="rgba(55,75,105,0.20)"/><path d="M737.49 221.80H745.56" stroke="rgba(75,45,65,0.22)"/><path d="M745.56 182.70H753.63" stroke="rgba(55,75,105,0.20)"/><path d="M745.56 224.60H753.63" stroke="rgba(75,45,65,0.22)"/><path d="M753.63 184.10H761.71" stroke="rgba(55,75,105,0.20)"/><path d="M753.63 220.10H761.71" stroke="rgba(75,45,65,0.22)"/><path d="M761.71 186.30H769.78" stroke="rgba(55,75,105,0.20)"/><path d="M761.71 226.90H769.78" stroke="rgba(75,45,65,0.22)"/><path d="M769.78 181.10H777.85" stroke="rgba(55,75,105,0.20)"/><path d="M769.78 222.70H777.85" stroke="rgba(75,45,65,0.22)"/><path d="M777.85 160.10H785.92" stroke="rgba(55,75,105,0.20)"/><path d="M777.85 220.00H785.92" stroke="rgba(75,45,65,0.22)"/><path d="M785.92 157.60H794.00" stroke="rgba(55,75,105,0.20)"/><path d="M785.92 233.60H794.00" stroke="rgba(75,45,65,0.22)"/><path d="M794.00 145.40H802.07" stroke="rgba(55,75,105,0.20)"/><path d="M794.00 222.50H802.07" stroke="rgba(75,45,65,0.22)"/><path d="M802.07 145.40H810.14" stroke="rgba(55,75,105,0.20)"/><path d="M802.07 233.00H810.14" stroke="rgba(75,45,65,0.22)"/><path d="M810.14 137.10H818.22" stroke="rgba(55,75,105,0.20)"/><path d="M810.14 232.30H818.22" stroke="rgba(75,45,65,0.22)"/><path d="M818.22 146.00H826.29" stroke="rgba(55,75,105,0.20)"/><path d="M818.22 234.20H826.29" stroke="rgba(75,45,65,0.22)"/><path d="M826.29 152.50H834.36" stroke="rgba(55,75,105,0.20)"/><path d="M826.29 240.00H834.36" stroke="rgba(75,45,65,0.22)"/><path d="M834.36 163.40H842.44" stroke="rgba(55,75,105,0.20)"/><path d="M834.36 238.70H842.44" stroke="rgba(75,45,65,0.22)"/><path d="M842.44 148.30H850.51" stroke="rgba(55,75,105,0.20)"/><path d="M842.44 244.00H850.51" stroke="rgba(75,45,65,0.22)"/><path d="M850.51 151.50H858.58" stroke="rgba(55,75,105,0.20)"/><path d="M850.51 242.00H858.58" stroke="rgba(75,45,65,0.22)"/><path d="M858.58 145.40H866.65" stroke="rgba(55,75,105,0.20)"/><path d="M858.58 254.70H866.65" stroke="rgba(75,45,65,0.22)"/><path d="M866.65 159.20H874.73" stroke="rgba(55,75,105,0.20)"/><path d="M866.65 267.40H874.73" stroke="rgba(75,45,65,0.22)"/><path d="M874.73 145.10H882.80" stroke="rgba(55,75,105,0.20)"/><path d="M874.73 252.80H882.80" stroke="rgba(75,45,65,0.22)"/><path d="M882.80 145.10H890.87" stroke="rgba(55,75,105,0.20)"/><path d="M882.80 261.80H890.87" stroke="rgba(75,45,65,0.22)"/><path d="M890.87 142.80H898.95" stroke="rgba(55,75,105,0.20)"/><path d="M890.87 273.20H898.95" stroke="rgba(75,45,65,0.22)"/><path d="M898.95 155.20H907.02" stroke="rgba(55,75,105,0.20)"/><path d="M898.95 275.80H907.02" stroke="rgba(75,45,65,0.22)"/><path d="M907.02 152.00H915.09" stroke="rgba(55,75,105,0.20)"/><path d="M907.02 299.90H915.09" stroke="rgba(75,45,65,0.22)"/><path d="M915.09 144.90H923.17" stroke="rgba(55,75,105,0.20)"/><path d="M915.09 297.50H923.17" stroke="rgba(75,45,65,0.22)"/><path d="M923.17 157.00H931.24" stroke="rgba(55,75,105,0.20)"/><path d="M923.17 315.00H931.24" stroke="rgba(75,45,65,0.22)"/><path d="M931.24 160.20H939.31" stroke="rgba(55,75,105,0.20)"/><path d="M931.24 303.80H939.31" stroke="rgba(75,45,65,0.22)"/><path d="M939.31 177.40H947.38" stroke="rgba(55,75,105,0.20)"/><path d="M939.31 305.60H947.38" stroke="rgba(75,45,65,0.22)"/><path d="M947.38 170.30H955.46" stroke="rgba(55,75,105,0.20)"/><path d="M947.38 327.50H955.46" stroke="rgba(75,45,65,0.22)"/><path d="M955.46 167.90H963.53" stroke="rgba(55,75,105,0.20)"/><path d="M955.46 339.00H963.53" stroke="rgba(75,45,65,0.22)"/><path d="M963.53 186.10H971.60" stroke="rgba(55,75,105,0.20)"/><path d="M963.53 333.10H971.60" stroke="rgba(75,45,65,0.22)"/><path d="M971.60 202.60H979.68" stroke="rgba(55,75,105,0.20)"/><path d="M971.60 377.30H979.68" stroke="rgba(75,45,65,0.22)"/><path d="M979.68 198.60H987.75" stroke="rgba(55,75,105,0.20)"/><path d="M979.68 375.20H987.75" stroke="rgba(75,45,65,0.22)"/><path d="M987.75 217.60H995.82" stroke="rgba(55,75,105,0.20)"/><path d="M987.75 392.10H995.82" stroke="rgba(75,45,65,0.22)"/><path d="M995.82 233.80H1003.89" stroke="rgba(70,85,105,0.22)"/><path d="M995.82 401.90H1003.89" stroke="rgba(75,45,65,0.22)"/><path d="M1003.90 233.20H1011.97" stroke="rgba(70,85,105,0.22)"/><path d="M1003.90 417.80H1011.97" stroke="rgba(75,45,65,0.22)"/><path d="M1011.97 250.40H1020.04" stroke="rgba(70,85,105,0.22)"/><path d="M1011.97 447.20H1020.04" stroke="rgba(75,45,65,0.22)"/><path d="M1020.04 268.20H1028.11" stroke="rgba(70,85,105,0.22)"/><path d="M1020.04 464.40H1028.11" stroke="rgba(75,45,65,0.22)"/><path d="M1028.11 309.30H1036.19" stroke="rgba(70,85,105,0.22)"/><path d="M1028.11 458.00H1036.19" stroke="rgba(75,45,65,0.22)"/><path d="M1036.19 327.00H1044.26" stroke="rgba(70,85,105,0.22)"/><path d="M1036.19 496.40H1044.26" stroke="rgba(75,45,65,0.22)"/><path d="M1044.26 335.20H1052.33" stroke="rgba(70,85,105,0.22)"/><path d="M1044.26 511.20H1052.33" stroke="rgba(75,45,65,0.22)"/><path d="M1052.33 355.10H1060.41" stroke="rgba(70,85,105,0.22)"/><path d="M1052.33 534.00H1060.41" stroke="rgba(75,45,65,0.22)"/><path d="M1060.41 381.30H1068.48" stroke="rgba(70,85,105,0.22)"/><path d="M1060.41 561.20H1068.48" stroke="rgba(75,45,65,0.22)"/><path d="M1068.48 387.10H1076.55" stroke="rgba(70,85,105,0.22)"/><path d="M1068.48 569.20H1076.55" stroke="rgba(75,45,65,0.22)"/><path d="M1076.55 419.10H1084.63" stroke="rgba(70,85,105,0.22)"/><path d="M1076.55 591.20H1084.63" stroke="rgba(75,45,65,0.22)"/><path d="M1084.62 452.40H1092.70" stroke="rgba(70,85,105,0.22)"/><path d="M1084.62 605.40H1092.70" stroke="rgba(75,45,65,0.22)"/><path d="M1092.70 469.90H1100.77" stroke="rgba(70,85,105,0.22)"/><path d="M1092.70 616.20H1100.77" stroke="rgba(75,45,65,0.22)"/><path d="M1100.77 481.30H1108.84" stroke="rgba(70,85,105,0.22)"/><path d="M1100.77 634.80H1108.84" stroke="rgba(75,45,65,0.22)"/><path d="M1108.84 519.50H1116.92" stroke="rgba(70,85,105,0.22)"/><path d="M1108.84 643.70H1116.92" stroke="rgba(75,45,65,0.22)"/><path d="M1116.92 524.80H1124.99" stroke="rgba(70,85,105,0.22)"/><path d="M1116.92 653.10H1124.99" stroke="rgba(75,45,65,0.22)"/><path d="M1124.99 549.80H1133.06" stroke="rgba(70,85,105,0.22)"/><path d="M1124.99 657.90H1133.06" stroke="rgba(75,45,65,0.22)"/><path d="M1133.06 567.30H1141.14" stroke="rgba(70,85,105,0.22)"/><path d="M1133.06 668.10H1141.14" stroke="rgba(75,45,65,0.22)"/><path d="M1141.14 581.20H1149.21" stroke="rgba(85,90,100,0.27)"/><path d="M1141.14 670.10H1149.21" stroke="rgba(75,45,65,0.22)"/><path d="M1149.21 600.40H1157.28" stroke="rgba(85,90,100,0.27)"/><path d="M1149.21 674.00H1157.28" stroke="rgba(75,45,65,0.22)"/><path d="M1157.28 600.40H1165.36" stroke="rgba(85,90,100,0.27)"/><path d="M1157.28 677.60H1165.36" stroke="rgba(75,45,65,0.22)"/><path d="M1165.36 614.50H1173.43" stroke="rgba(85,90,100,0.27)"/><path d="M1165.36 679.00H1173.43" stroke="rgba(75,45,65,0.22)"/><path d="M1173.43 626.50H1181.50" stroke="rgba(85,90,100,0.27)"/><path d="M1173.43 680.10H1181.50" stroke="rgba(75,45,65,0.22)"/><path d="M1181.50 643.10H1189.57" stroke="rgba(85,90,100,0.27)"/><path d="M1181.50 680.90H1189.57" stroke="rgba(75,45,65,0.22)"/><path d="M1189.57 649.20H1197.65" stroke="rgba(85,90,100,0.27)"/><path d="M1189.57 681.70H1197.65" stroke="rgba(75,45,65,0.22)"/><path d="M1197.65 658.10H1205.72" stroke="rgba(85,90,100,0.27)"/><path d="M1197.65 682.10H1205.72" stroke="rgba(75,45,65,0.22)"/><path d="M1205.72 656.50H1213.79" stroke="rgba(85,90,100,0.27)"/><path d="M1205.72 682.50H1213.79" stroke="rgba(75,45,65,0.22)"/><path d="M1213.79 664.20H1221.87" stroke="rgba(85,90,100,0.27)"/><path d="M1213.79 682.80H1221.87" stroke="rgba(75,45,65,0.22)"/><path d="M1221.87 670.60H1229.94" stroke="rgba(85,90,100,0.27)"/><path d="M1229.94 671.50H1238.01" stroke="rgba(85,90,100,0.27)"/><path d="M1238.01 677.30H1246.09" stroke="rgba(85,90,100,0.27)"/><path d="M1246.09 675.90H1254.16" stroke="rgba(85,90,100,0.27)"/><path d="M1254.16 678.40H1262.23" stroke="rgba(85,90,100,0.27)"/><path d="M1262.23 681.30H1270.30" stroke="rgba(85,90,100,0.27)"/><path d="M1270.30 680.30H1278.38" stroke="rgba(85,90,100,0.27)"/><path d="M1278.38 682.30H1286.45" stroke="rgba(85,90,100,0.27)"/><path d="M1286.45 681.30H1294.52" stroke="rgba(85,90,100,0.27)"/><path d="M1294.52 682.70H1302.60" stroke="rgba(85,90,100,0.27)"/><path d="M1302.60 682.70H1310.67" stroke="rgba(85,90,100,0.27)"/><path d="M1310.67 682.80H1318.74" stroke="rgba(85,90,100,0.27)"/><path d="M1318.74 682.80H1326.82" stroke="rgba(85,90,100,0.27)"/>
</g>
<g stroke="#868686" stroke-width="1.3" fill="none">
<path d="M75.5 167.1V683.80"/>
<path d="M71 683.80H1488.8"/>
<path d="M71 368.8H75.5"/>
<path d="M75.50 683.80v4.4M83.57 683.80v4.4M91.65 683.80v4.4M99.72 683.80v4.4M107.79 683.80v4.4M115.87 683.80v4.4M123.94 683.80v4.4M132.01 683.80v4.4M140.08 683.80v4.4M148.16 683.80v4.4M156.23 683.80v4.4M164.30 683.80v4.4M172.38 683.80v4.4M180.45 683.80v4.4M188.52 683.80v4.4M196.59 683.80v4.4M204.67 683.80v4.4M212.74 683.80v4.4M220.81 683.80v4.4M228.89 683.80v4.4M236.96 683.80v4.4M245.03 683.80v4.4M253.11 683.80v4.4M261.18 683.80v4.4M269.25 683.80v4.4M277.33 683.80v4.4M285.40 683.80v4.4M293.47 683.80v4.4M301.54 683.80v4.4M309.62 683.80v4.4M317.69 683.80v4.4M325.76 683.80v4.4M333.84 683.80v4.4M341.91 683.80v4.4M349.98 683.80v4.4M358.06 683.80v4.4M366.13 683.80v4.4M374.20 683.80v4.4M382.27 683.80v4.4M390.35 683.80v4.4M398.42 683.80v4.4M406.49 683.80v4.4M414.57 683.80v4.4M422.64 683.80v4.4M430.71 683.80v4.4M438.79 683.80v4.4M446.86 683.80v4.4M454.93 683.80v4.4M463.00 683.80v4.4M471.08 683.80v4.4M479.15 683.80v4.4M487.22 683.80v4.4M495.30 683.80v4.4M503.37 683.80v4.4M511.44 683.80v4.4M519.52 683.80v4.4M527.59 683.80v4.4M535.66 683.80v4.4M543.73 683.80v4.4M551.81 683.80v4.4M559.88 683.80v4.4M567.95 683.80v4.4M576.03 683.80v4.4M584.10 683.80v4.4M592.17 683.80v4.4M600.25 683.80v4.4M608.32 683.80v4.4M616.39 683.80v4.4M624.46 683.80v4.4M632.54 683.80v4.4M640.61 683.80v4.4M648.68 683.80v4.4M656.76 683.80v4.4M664.83 683.80v4.4M672.90 683.80v4.4M680.98 683.80v4.4M689.05 683.80v4.4M697.12 683.80v4.4M705.19 683.80v4.4M713.27 683.80v4.4M721.34 683.80v4.4M729.41 683.80v4.4M737.49 683.80v4.4M745.56 683.80v4.4M753.63 683.80v4.4M761.71 683.80v4.4M769.78 683.80v4.4M777.85 683.80v4.4M785.92 683.80v4.4M794.00 683.80v4.4M802.07 683.80v4.4M810.14 683.80v4.4M818.22 683.80v4.4M826.29 683.80v4.4M834.36 683.80v4.4M842.44 683.80v4.4M850.51 683.80v4.4M858.58 683.80v4.4M866.65 683.80v4.4M874.73 683.80v4.4M882.80 683.80v4.4M890.87 683.80v4.4M898.95 683.80v4.4M907.02 683.80v4.4M915.09 683.80v4.4M923.17 683.80v4.4M931.24 683.80v4.4M939.31 683.80v4.4M947.38 683.80v4.4M955.46 683.80v4.4M963.53 683.80v4.4M971.60 683.80v4.4M979.68 683.80v4.4M987.75 683.80v4.4M995.82 683.80v4.4M1003.90 683.80v4.4M1011.97 683.80v4.4M1020.04 683.80v4.4M1028.11 683.80v4.4M1036.19 683.80v4.4M1044.26 683.80v4.4M1052.33 683.80v4.4M1060.41 683.80v4.4M1068.48 683.80v4.4M1076.55 683.80v4.4M1084.62 683.80v4.4M1092.70 683.80v4.4M1100.77 683.80v4.4M1108.84 683.80v4.4M1116.92 683.80v4.4M1124.99 683.80v4.4M1133.06 683.80v4.4M1141.14 683.80v4.4M1149.21 683.80v4.4M1157.28 683.80v4.4M1165.36 683.80v4.4M1173.43 683.80v4.4M1181.50 683.80v4.4M1189.57 683.80v4.4M1197.65 683.80v4.4M1205.72 683.80v4.4M1213.79 683.80v4.4M1221.87 683.80v4.4M1229.94 683.80v4.4M1238.01 683.80v4.4M1246.09 683.80v4.4M1254.16 683.80v4.4M1262.23 683.80v4.4M1270.30 683.80v4.4M1278.38 683.80v4.4M1286.45 683.80v4.4M1294.52 683.80v4.4M1302.60 683.80v4.4M1310.67 683.80v4.4M1318.74 683.80v4.4M1326.82 683.80v4.4M1334.89 683.80v4.4M1342.96 683.80v4.4M1351.03 683.80v4.4M1359.11 683.80v4.4M1367.18 683.80v4.4M1375.25 683.80v4.4M1383.33 683.80v4.4M1391.40 683.80v4.4M1399.47 683.80v4.4M1407.55 683.80v4.4M1415.62 683.80v4.4M1423.69 683.80v4.4M1431.76 683.80v4.4M1439.84 683.80v4.4M1447.91 683.80v4.4M1455.98 683.80v4.4M1464.06 683.80v4.4M1472.13 683.80v4.4M1480.20 683.80v4.4M1488.28 683.80v4.4"/>
</g>
<g font-size="15.8" fill="#000" text-anchor="middle">
<text x="79.54" y="707.6">50</text>
<text x="160.27" y="707.6">60</text>
<text x="241.00" y="707.6">70</text>
<text x="321.73" y="707.6">80</text>
<text x="402.46" y="707.6">90</text>
<text x="483.19" y="707.6">100</text>
<text x="563.92" y="707.6">110</text>
<text x="644.65" y="707.6">120</text>
<text x="725.38" y="707.6">130</text>
<text x="806.11" y="707.6">140</text>
<text x="886.84" y="707.6">150</text>
<text x="967.57" y="707.6">160</text>
<text x="1048.30" y="707.6">170</text>
<text x="1129.03" y="707.6">180</text>
<text x="1209.76" y="707.6">190</text>
<text x="1290.49" y="707.6">200</text>
<text x="1371.22" y="707.6">210</text>
<text x="1451.95" y="707.6">220</text>
</g>
<g font-size="15.8" fill="#000" text-anchor="end">
<text x="61.6" y="688.6">0%</text>
<text x="61.6" y="373.6">1%</text>
</g>
<text x="781.6" y="734.4" font-size="20.5" letter-spacing="0.32" font-weight="bold" text-anchor="middle" fill="#000">Seat projection</text>
<text transform="translate(31.5 367.6) rotate(-90)" font-size="15.75" font-weight="bold" text-anchor="middle" fill="#000">Probabilities (%)</text>
<path d="M1042.95 43.2V681" stroke="#000" stroke-width="2.25" stroke-dasharray="7.8 6.2" fill="none"/>
<text x="1053" y="68.6" font-size="27" fill="#404040">Majority: 170 seats</text>
<defs><clipPath id="c131"><path clip-rule="evenodd" d="M670 140H800V215H670ZM684 195.7H698.9V206H684ZM707.1 195.7H718.5V206H707.1ZM749 195.7H764.9V206H749ZM773.1 195.7H788V206H773.1Z"/></clipPath><clipPath id="c144"><path clip-rule="evenodd" d="M780 90H900V155H780ZM788 137.7H804.3V148H788ZM812.5 137.7H822.6V148H812.5Z"/></clipPath></defs>
<g clip-path="url(#c131)"><text transform="translate(684.6 203) scale(0.968 1)" dx="1 -1 2" font-size="60.3" font-weight="bold" fill="#C00000">131</text></g>
<g clip-path="url(#c144)"><text transform="translate(789.6 145) scale(0.968 1)" dx="1.4 -1.4 0" font-size="60.3" font-weight="bold" fill="#0070C0">144</text></g>
<g font-size="29.33" fill="#7F7F7F">
<text x="160.6" y="45.85">338Canada federal projection</text>
<text x="160.6" y="80.8" letter-spacing="-0.2">September 4, 2021</text>
<text x="160.6" y="115.7" letter-spacing="0.16">250k simulations</text>
</g>
<g>
<rect x="30.60" y="13.60" width="24.2" height="24.2" fill="#C00000"/>
<path d="M54.80 13.60V37.80H30.60l1.7 -1.7H53.10V15.30Z" fill="#000" opacity="0.16"/>
<path d="M54.80 13.60V37.80H30.60l0.8 -0.8H54.00V14.40Z" fill="#000" opacity="0.22"/>
<path d="M30.60 37.80V13.60H54.80l-0.6 0.6H31.20V37.20Z" fill="#fff" opacity="0.25"/>
<rect x="57.67" y="13.60" width="24.2" height="24.2" fill="#C00000"/>
<path d="M81.87 13.60V37.80H57.67l1.7 -1.7H80.17V15.30Z" fill="#000" opacity="0.16"/>
<path d="M81.87 13.60V37.80H57.67l0.8 -0.8H81.07V14.40Z" fill="#000" opacity="0.22"/>
<path d="M57.67 37.80V13.60H81.87l-0.6 0.6H58.27V37.20Z" fill="#fff" opacity="0.25"/>
<rect x="84.74" y="13.60" width="24.2" height="24.2" fill="#E36C0A"/>
<path d="M108.94 13.60V37.80H84.74l1.7 -1.7H107.24V15.30Z" fill="#000" opacity="0.16"/>
<path d="M108.94 13.60V37.80H84.74l0.8 -0.8H108.14V14.40Z" fill="#000" opacity="0.22"/>
<path d="M84.74 37.80V13.60H108.94l-0.6 0.6H85.34V37.20Z" fill="#fff" opacity="0.25"/>
<rect x="111.81" y="13.60" width="24.2" height="24.2" fill="#E36C0A"/>
<path d="M136.01 13.60V37.80H111.81l1.7 -1.7H134.31V15.30Z" fill="#000" opacity="0.16"/>
<path d="M136.01 13.60V37.80H111.81l0.8 -0.8H135.21V14.40Z" fill="#000" opacity="0.22"/>
<path d="M111.81 37.80V13.60H136.01l-0.6 0.6H112.41V37.20Z" fill="#fff" opacity="0.25"/>
<rect x="30.60" y="41.65" width="24.2" height="24.2" fill="#C00000"/>
<path d="M54.80 41.65V65.85H30.60l1.7 -1.7H53.10V43.35Z" fill="#000" opacity="0.16"/>
<path d="M54.80 41.65V65.85H30.60l0.8 -0.8H54.00V42.45Z" fill="#000" opacity="0.22"/>
<path d="M30.60 65.85V41.65H54.80l-0.6 0.6H31.20V65.25Z" fill="#fff" opacity="0.25"/>
<rect x="57.67" y="41.65" width="24.2" height="24.2" fill="#00B050"/>
<path d="M81.87 41.65V65.85H57.67l1.7 -1.7H80.17V43.35Z" fill="#000" opacity="0.16"/>
<path d="M81.87 41.65V65.85H57.67l0.8 -0.8H81.07V42.45Z" fill="#000" opacity="0.22"/>
<path d="M57.67 65.85V41.65H81.87l-0.6 0.6H58.27V65.25Z" fill="#fff" opacity="0.25"/>
<rect x="84.74" y="41.65" width="24.2" height="24.2" fill="#00B050"/>
<path d="M108.94 41.65V65.85H84.74l1.7 -1.7H107.24V43.35Z" fill="#000" opacity="0.16"/>
<path d="M108.94 41.65V65.85H84.74l0.8 -0.8H108.14V42.45Z" fill="#000" opacity="0.22"/>
<path d="M84.74 65.85V41.65H108.94l-0.6 0.6H85.34V65.25Z" fill="#fff" opacity="0.25"/>
<rect x="111.81" y="41.65" width="24.2" height="24.2" fill="#E36C0A"/>
<path d="M136.01 41.65V65.85H111.81l1.7 -1.7H134.31V43.35Z" fill="#000" opacity="0.16"/>
<path d="M136.01 41.65V65.85H111.81l0.8 -0.8H135.21V42.45Z" fill="#000" opacity="0.22"/>
<path d="M111.81 65.85V41.65H136.01l-0.6 0.6H112.41V65.25Z" fill="#fff" opacity="0.25"/>
<rect x="30.60" y="69.70" width="24.2" height="24.2" fill="#0070C0"/>
<path d="M54.80 69.70V93.90H30.60l1.7 -1.7H53.10V71.40Z" fill="#000" opacity="0.16"/>
<path d="M54.80 69.70V93.90H30.60l0.8 -0.8H54.00V70.50Z" fill="#000" opacity="0.22"/>
<path d="M30.60 93.90V69.70H54.80l-0.6 0.6H31.20V93.30Z" fill="#fff" opacity="0.25"/>
<rect x="57.67" y="69.70" width="24.2" height="24.2" fill="#00B050"/>
<path d="M81.87 69.70V93.90H57.67l1.7 -1.7H80.17V71.40Z" fill="#000" opacity="0.16"/>
<path d="M81.87 69.70V93.90H57.67l0.8 -0.8H81.07V70.50Z" fill="#000" opacity="0.22"/>
<path d="M57.67 93.90V69.70H81.87l-0.6 0.6H58.27V93.30Z" fill="#fff" opacity="0.25"/>
<rect x="30.60" y="97.75" width="24.2" height="24.2" fill="#0070C0"/>
<path d="M54.80 97.75V121.95H30.60l1.7 -1.7H53.10V99.45Z" fill="#000" opacity="0.16"/>
<path d="M54.80 97.75V121.95H30.60l0.8 -0.8H54.00V98.55Z" fill="#000" opacity="0.22"/>
<path d="M30.60 121.95V97.75H54.80l-0.6 0.6H31.20V121.35Z" fill="#fff" opacity="0.25"/>
<rect x="57.67" y="97.75" width="24.2" height="24.2" fill="#0070C0"/>
<path d="M81.87 97.75V121.95H57.67l1.7 -1.7H80.17V99.45Z" fill="#000" opacity="0.16"/>
<path d="M81.87 97.75V121.95H57.67l0.8 -0.8H81.07V98.55Z" fill="#000" opacity="0.22"/>
<path d="M57.67 121.95V97.75H81.87l-0.6 0.6H58.27V121.35Z" fill="#fff" opacity="0.25"/>
</g>
<path d="M110.41 70.95L114.94 79.29L119.46 77.30L117.32 90.79L124.86 84.44L126.84 88.02L133.19 86.83L131.21 94.76L133.98 96.35L121.29 105.48L122.87 110.24L111.21 108.65L111.52 121.75L109.78 121.75L109.62 108.65L98.27 110.24L99.62 105.48L86.92 96.35L89.70 94.76L87.71 86.83L94.06 88.02L96.05 84.44L103.59 90.79L101.44 77.30L105.97 79.29Z" fill="#B00000" stroke="#8A0000" stroke-width="0.6" stroke-linejoin="miter"/>
<text x="16.8" y="145.5" style="font-family:'DejaVu Serif','Liberation Serif',serif" font-weight="bold" font-size="22" fill="#000" stroke="#000" stroke-width="0.9" textLength="133.6" lengthAdjust="spacingAndGlyphs">338Canada</text>
<path d="M778.12 40.40A51.25 51.25 0 1 0 778.12 114.00L764.31 100.50A30.95 30.95 0 1 1 764.31 54.50Z" fill="#002856"/>
<path d="M724.67 97.13L726.49 98.87L734.27 89.64L742.05 98.87L744.09 94.36L758.64 95.45L758.05 93.05L765.18 87.45L759.36 83.45L760.82 79.45L751.73 79.82L762.64 71.09L757.91 69.27L759.73 59.45L750.64 63.09L748.82 57.64L741.55 69.27L740.60 60.55L736.82 62.00L732.82 56.40L729.55 63.09L725.55 62.36L727.36 78.36L723.36 80.91L730.64 85.78L741.55 78.22L732.45 87.24Z" fill="#E8112D"/>
<defs><clipPath id="cL"><path d="M570 120H619V195.4H650V216H570Z"/></clipPath></defs>
<g clip-path="url(#cL)"><text x="0" y="0" transform="translate(582.1 209.8) scale(0.765 1)" style="font-family:'Liberation Serif',serif" font-weight="bold" font-size="120.6" fill="#D71920" stroke="#D71920" stroke-width="1.6" stroke-linejoin="round">L</text></g>
<path d="M643.95 137.56Q644.81 143.75 646.96 145.47Q649.54 146.76 652.55 145.90Q649.11 153.21 649.97 157.51Q654.70 158.37 658.14 154.93L659.00 153.04L659.86 155.36Q663.72 154.50 666.91 152.18Q663.72 157.51 662.01 164.38L664.33 166.10Q659.00 169.11 658.14 172.98Q659.43 175.13 661.58 176.42Q656.42 180.72 650.40 180.72Q643.52 179.86 638.37 177.28Q635.79 185.01 625.47 188.62Q624.18 187.16 626.76 184.15Q634.07 182.44 635.79 177.11Q627.19 177.71 622.03 175.13Q617.74 172.55 614.73 168.85Q618.17 168.25 619.03 166.96Q619.03 162.66 615.33 157.51L618.17 156.65Q618.60 149.77 617.31 143.75Q620.32 147.19 622.89 149.60L624.61 147.62Q627.19 153.21 630.63 155.36Q633.21 152.35 632.78 142.89Q634.93 144.18 636.82 144.18Q641.38 142.03 643.95 137.56Z" fill="#D71920"/>
</svg></body></html>
